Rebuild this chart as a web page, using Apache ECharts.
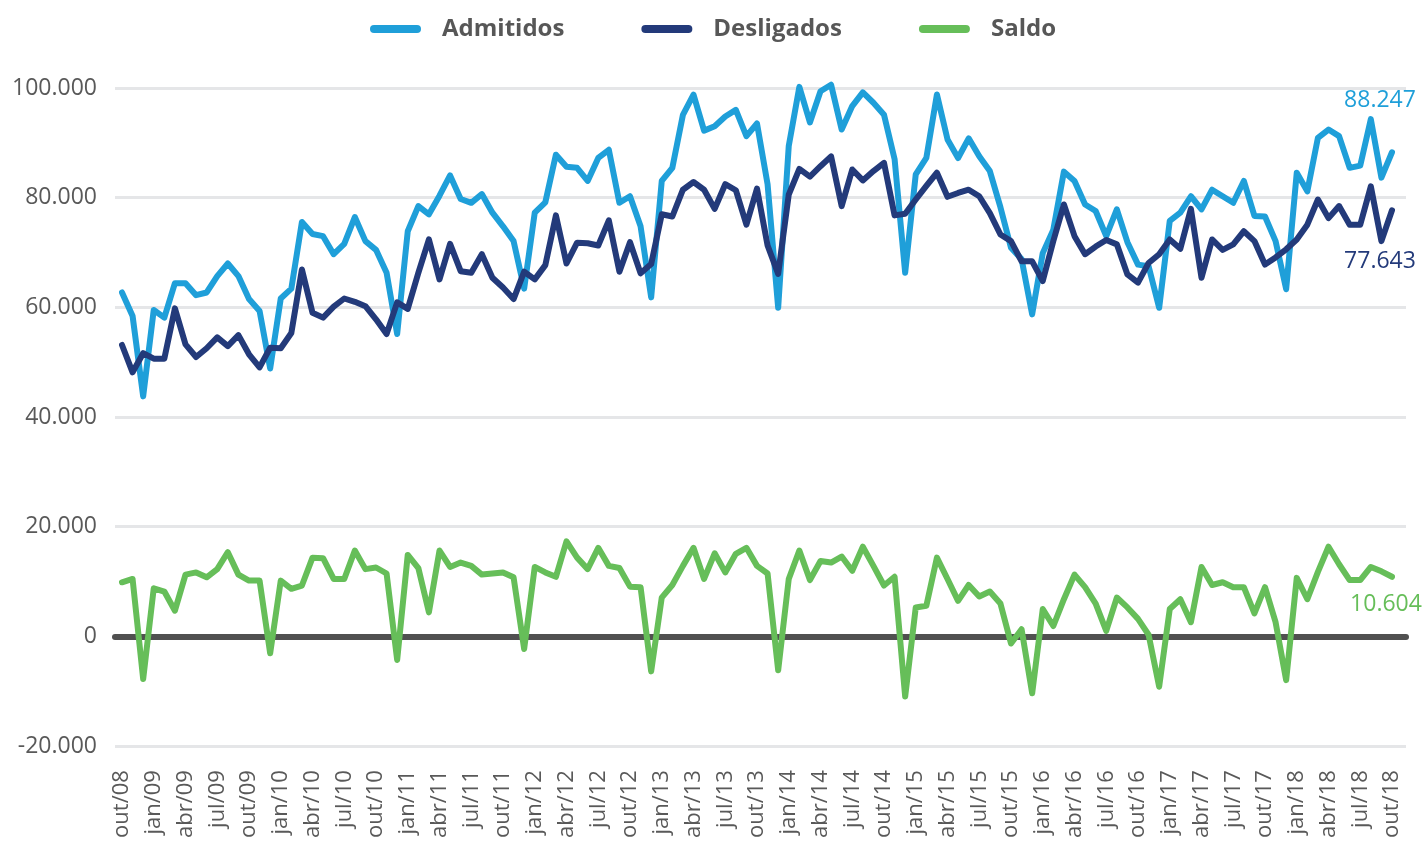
<!DOCTYPE html>
<html>
<head>
<meta charset="utf-8">
<script src="https://cdn.jsdelivr.net/npm/echarts@6/dist/echarts.min.js"></script>
<style>
html,body{margin:0;padding:0;background:#fff;}
#chart{width:1426px;height:841px;}
</style>
</head>
<body>
<div id="chart"></div>
<script>
// Months from out/08 to out/18
var monthNames = ['jan','fev','mar','abr','mai','jun','jul','ago','set','out','nov','dez'];
var categories = [];
for (var k = 0; k <= 120; k++) {
  var m = (9 + k) % 12;
  var y = 8 + Math.floor((9 + k) / 12);
  categories.push(monthNames[m] + '/' + (y < 10 ? '0' + y : '' + y));
}

var admitidos = [62600,58300,43600,59400,58000,64300,64300,62100,62600,65600,
67900,65600,61400,59200,48700,61500,63300,75500,73300,72900,
69600,71500,76400,72000,70400,66200,55000,73800,78400,76900,
80300,84000,79700,79000,80600,77200,74700,72000,63300,77200,
79100,87800,85600,85400,83000,87200,88700,79000,80200,74700,
61700,83000,85400,95100,98800,92200,93000,94800,96000,91200,
93500,82400,59800,89400,100200,93700,99400,100600,92400,96700,
99200,97300,95100,87000,66200,84200,87200,98800,90600,87200,
90800,87500,84800,78200,70800,68700,58600,69800,74100,84700,
83000,78700,77500,72900,77800,71800,67700,67400,59800,75700,
77200,80200,77800,81400,80200,79000,83000,76600,76500,72000,
63200,84500,81100,90900,92400,91200,85400,85800,94300,83600,
88247];

var desligados = [53000,48000,51500,50500,50500,59700,53100,50800,52400,54400,
52800,54800,51300,48900,52500,52400,55200,66800,58900,58000,
60000,61500,60900,60100,57700,55000,60800,59600,66200,72300,
65000,71500,66500,66200,69600,65300,63500,61400,66400,65000,
67600,76700,67900,71700,71600,71200,75800,66400,71800,66100,
67800,76900,76500,81400,82800,81400,77900,82400,81300,75000,
81600,71200,66000,80500,85200,83800,85700,87500,78400,85100,
83100,84800,86300,76700,77000,79600,82100,84500,80100,80800,
81400,80200,77100,73200,72000,68300,68300,64700,72000,78700,
72900,69600,71000,72200,71400,65900,64400,68000,69600,72300,
70600,77900,65300,72300,70400,71400,73800,72000,67700,69000,
70500,72300,75000,79600,76200,78400,75000,75000,82000,72000,
77643];

var saldo = [9600,10200,-8100,8500,7900,4400,11000,11400,10500,12000,
15100,11000,9900,9900,-3400,9900,8400,9000,14100,14000,
10200,10200,15400,12000,12300,11200,-4600,14600,12200,4100,
15400,12400,13200,12600,11000,11200,11400,10500,-2600,12400,
11400,10600,17100,14100,12000,15900,12600,12200,8800,8700,
-6700,6800,9100,12600,15900,10200,14900,11400,14800,15900,
12600,11200,-6500,10200,15400,10000,13500,13200,14300,11700,
16100,12600,9000,10600,-11300,5000,5300,14100,10200,6200,
9100,7000,7900,5700,-1600,1000,-10700,4700,1600,6500,
11000,8700,5700,700,6800,5000,2900,0,-9500,4700,
6500,2300,12400,9100,9600,8700,8700,3900,8700,2300,
-8300,10400,6500,11500,16100,12900,10000,10000,12400,11600,
10604];

var yTicks = {min: -20000, max: 100000, interval: 20000};

function fmt(n) {
  var s = String(Math.abs(Math.round(n))).replace(/\B(?=(\d{3})+(?!\d))/g, '.');
  return (n < 0 ? '-' : '') + s;
}

var FONT = '"Open Sans", "Noto Sans", sans-serif';
var colA = '#1F9FD9', colD = '#233A7A', colS = '#66BE59';

function withEndLabel(arr, color, pos, offset) {
  return arr.map(function (v, i) {
    if (i !== arr.length - 1) return v;
    return {
      value: v,
      label: {
        show: true, position: pos, offset: offset,
        formatter: function (p) { return fmt(p.value); },
        color: color, fontSize: 23, fontFamily: FONT, opacity: 1
      }
    };
  });
}

var legendIcon = 'path://M4,0 H47 A4,4 0 0 1 47,8 H4 A4,4 0 0 1 4,0 Z';

function lineSeries(name, arr, color, pos, offset) {
  return {
    name: name, type: 'line', xAxisIndex: 1, yAxisIndex: 1,
    data: withEndLabel(arr, color, pos, offset),
    symbol: 'circle', symbolSize: 0, showSymbol: true, color: color,
    itemStyle: {color: color, borderWidth: 0},
    lineStyle: {width: 6, color: color, cap: 'round', join: 'round'},
    label: {show: false},
    clip: false,
    emphasis: {disabled: true}
  };
}

var chart = echarts.init(document.getElementById('chart'));
chart.setOption({
  animation: false,
  backgroundColor: '#fff',
  legend: {
    top: 12,
    left: 'center',
    itemWidth: 51,
    itemHeight: 9,
    itemGap: 77,
    textStyle: {fontFamily: FONT, fontWeight: 'bold', fontSize: 24, color: '#575757', padding: [0, 0, 0, 16]},
    data: [
      {name: 'Admitidos', icon: legendIcon, itemStyle: {color: colA, opacity: 1}},
      {name: 'Desligados', icon: legendIcon, itemStyle: {color: colD, opacity: 1}},
      {name: 'Saldo', icon: legendIcon, itemStyle: {color: colS, opacity: 1}}
    ]
  },
  grid: [
    {left: 115, right: 20, top: 88, bottom: 95, containLabel: false},
    {left: 122, right: 34, top: 88, bottom: 95, containLabel: false}
  ],
  xAxis: [
    {
      gridIndex: 0, type: 'category', data: categories, boundaryGap: false,
      axisLine: {show: true, onZero: true, lineStyle: {color: '#505050', width: 6, cap: 'round'}},
      axisTick: {show: false}, axisLabel: {show: false}, splitLine: {show: false}
    },
    {
      gridIndex: 1, type: 'category', data: categories, boundaryGap: false,
      axisLine: {show: false}, axisTick: {show: false}, splitLine: {show: false},
      position: 'bottom',
      axisLabel: {
        interval: 2, rotate: 90, margin: 26,
        fontFamily: FONT, fontSize: 22, color: '#595959'
      }
    }
  ],
  yAxis: [
    {
      gridIndex: 0, type: 'value', min: yTicks.min, max: yTicks.max, interval: yTicks.interval,
      axisLine: {show: false}, axisTick: {show: false},
      splitLine: {show: true, lineStyle: {color: '#E5E6E8', width: 3}},
      axisLabel: {
        margin: 18, fontFamily: FONT, fontSize: 23, color: '#595959',
        formatter: function (v) { return fmt(v); }
      }
    },
    {
      gridIndex: 1, type: 'value', min: yTicks.min, max: yTicks.max, interval: yTicks.interval,
      axisLine: {show: false}, axisTick: {show: false}, splitLine: {show: false}, axisLabel: {show: false}
    }
  ],
  series: [
    lineSeries('Admitidos', admitidos, colA, 'top', [-12, -35]),
    lineSeries('Desligados', desligados, colD, 'bottom', [-12, 35]),
    lineSeries('Saldo', saldo, colS, 'bottom', [-6, 11])
  ]
});
</script>
</body>
</html>
